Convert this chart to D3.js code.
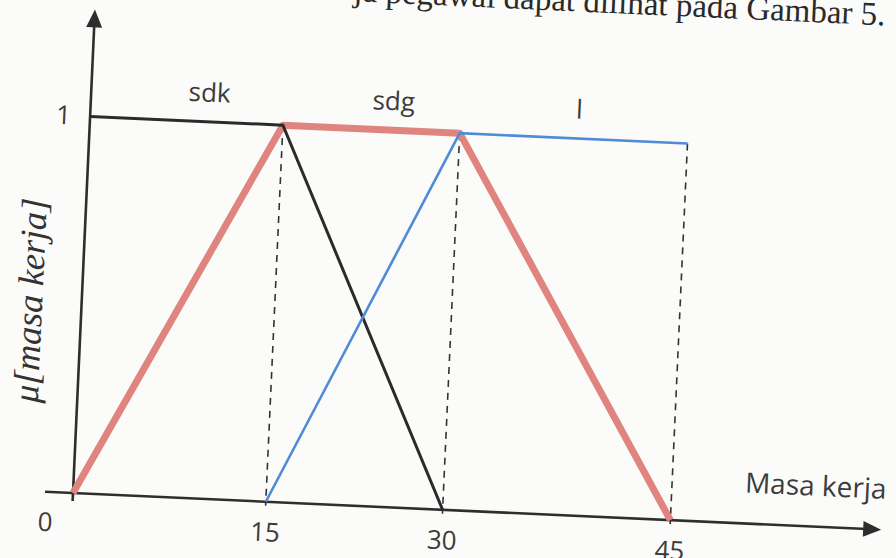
<!DOCTYPE html>
<html>
<head>
<meta charset="utf-8">
<script src="https://cdn.jsdelivr.net/npm/d3@7"></script>
<style>
body{margin:0;background:#fbfbf9;}
svg{display:block;}
.lbl{font-family:"Open Sans",sans-serif;fill:#3c3c3c;}
</style>
</head>
<body>
<div id="chart"></div>
<script>
// fungsi keanggotaan masa kerja
var xTicks = [0, 15, 30, 45];
var yTicks = [1];
var setNames = ["sdk", "sdg", "l"];
var setLabelAt = [9.2, 24.3, 37.8];
var sdk = [[0, 1], [15, 1], [30, 0]];
var sdg = [[0, 0], [15, 1], [30, 1], [45, 0]];
var lama = [[15, 0], [30, 1], [45, 1]];
var guides = [15, 30, 45];
var xTitle = "Masa kerja";
var yTitle = "\u03bc[masa kerja]";
var caption = "ja pegawai dapat dilihat pada Gambar 5.";

var W = 896, H = 558;
var origin = {x: 73, y: 493}, tilt = 2.6;

var svg = d3.select("#chart").append("svg").attr("width", W).attr("height", H);
svg.append("rect").attr("width", W).attr("height", H).attr("fill", "#fbfbf9");

// the scanned figure is a bit tilted, so everything lives in a rotated group
var g = svg.append("g").attr("transform", "translate(" + origin.x + "," + origin.y + ") rotate(" + tilt + ")");

// hand drawn spacing is not even, so a piecewise scale
var x = d3.scaleLinear().domain(xTicks).range([0, 193, 370, 598]);
var y = d3.scaleLinear().domain([0, 1]).range([0, -377]);

var line = d3.line().x(function(d){ return x(d[0]); }).y(function(d){ return y(d[1]); });

g.append("text")
	.attr("x", 790).attr("y", -504)
	.attr("text-anchor", "end")
	.style("font-family", "'Liberation Serif','Times New Roman',serif")
	.style("font-size", "33px")
	.attr("fill", "#2a2a2a")
	.text(caption);

// dashed guides
g.selectAll(".guide").data(guides).enter().append("line")
	.attr("x1", function(d){ return x(d); }).attr("x2", function(d){ return x(d); })
	.attr("y1", y(1)).attr("y2", y(0) + 4)
	.attr("stroke", "#333").attr("stroke-width", 1.6)
	.attr("stroke-dasharray", "7,6");

// axes
g.append("line").attr("x1", -28).attr("y1", 0).attr("x2", 795).attr("y2", 0)
	.attr("stroke", "#2e2e2e").attr("stroke-width", 2.6);
g.append("path").attr("d", "M809,0 L791,-8 L791,8 Z").attr("fill", "#2e2e2e");
g.append("line").attr("x1", 0).attr("y1", 8).attr("x2", 0).attr("y2", -468)
	.attr("stroke", "#2e2e2e").attr("stroke-width", 2.6);
g.append("path").attr("d", "M0,-484 L-8,-466 L8,-466 Z").attr("fill", "#2e2e2e");

var xAxis = g.append("g").call(d3.axisBottom(x).tickValues(xTicks).tickSize(0).tickPadding(21));
xAxis.select(".domain").remove();
xAxis.selectAll("text").attr("class", "lbl").style("font-size", "26px").attr("font-family", null)
	.attr("dx", function(d){ return d === 0 ? -27 : 0; });

var yAxis = g.append("g").call(d3.axisLeft(y).tickValues(yTicks).tickFormat(d3.format("d")).tickSize(0).tickPadding(19));
yAxis.select(".domain").remove();
yAxis.selectAll("text").attr("class", "lbl").style("font-size", "26px").attr("font-family", null);

// membership lines
g.append("path").datum(sdg).attr("d", line)
	.attr("fill", "none").attr("stroke", "#df847e").attr("stroke-width", 7).attr("stroke-linejoin", "round");
g.append("path").datum(sdk).attr("d", line)
	.attr("fill", "none").attr("stroke", "#2b2b2b").attr("stroke-width", 3);
g.append("path").datum(lama).attr("d", line)
	.attr("fill", "none").attr("stroke", "#4f8bd6").attr("stroke-width", 2.6);

// set names
g.selectAll(".setname").data(setNames).enter().append("text")
	.attr("class", "lbl").style("font-size", "26px")
	.attr("text-anchor", "middle")
	.attr("x", function(d, i){ return x(setLabelAt[i]); })
	.attr("y", y(1) - 20)
	.text(function(d){ return d; });

g.append("text").attr("class", "lbl").style("font-size", "28px")
	.attr("x", 671).attr("y", -31)
	.text(xTitle);

g.append("text")
	.attr("transform", "translate(-52," + (y(0.5) - 2) + ") rotate(-90)")
	.attr("text-anchor", "middle").attr("dy", "0.35em")
	.style("font-family", "'Liberation Serif','DejaVu Serif',serif")
	.style("font-style", "italic").style("font-size", "36px")
	.attr("fill", "#333")
	.text(yTitle);
</script>
</body>
</html>
